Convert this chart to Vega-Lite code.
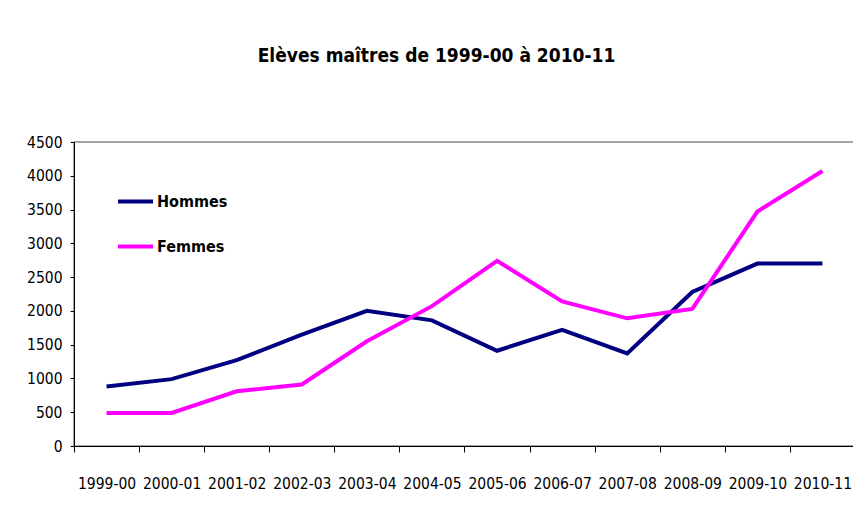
{
  "$schema": "https://vega.github.io/schema/vega-lite/v6.json",
  "width": 781,
  "height": 304,
  "autosize": {"type": "none"},
  "padding": {"left": 74, "top": 142, "right": 0, "bottom": 81},
  "background": "white",
  "title": {
    "text": "Elèves maîtres de 1999-00 à 2010-11",
    "font": "DejaVu Sans Condensed, Liberation Sans, sans-serif",
    "fontSize": 19,
    "fontWeight": "bold",
    "color": "black",
    "anchor": "middle",
    "dx": -28,
    "baseline": "alphabetic",
    "offset": 54
  },
  "data": {
    "values": [
      {"annee": "1999-00", "sexe": "Hommes", "n": 880},
      {"annee": "2000-01", "sexe": "Hommes", "n": 990},
      {"annee": "2001-02", "sexe": "Hommes", "n": 1270},
      {"annee": "2002-03", "sexe": "Hommes", "n": 1650},
      {"annee": "2003-04", "sexe": "Hommes", "n": 2000},
      {"annee": "2004-05", "sexe": "Hommes", "n": 1860},
      {"annee": "2005-06", "sexe": "Hommes", "n": 1410},
      {"annee": "2006-07", "sexe": "Hommes", "n": 1720},
      {"annee": "2007-08", "sexe": "Hommes", "n": 1370},
      {"annee": "2008-09", "sexe": "Hommes", "n": 2280},
      {"annee": "2009-10", "sexe": "Hommes", "n": 2700},
      {"annee": "2010-11", "sexe": "Hommes", "n": 2700},
      {"annee": "1999-00", "sexe": "Femmes", "n": 490},
      {"annee": "2000-01", "sexe": "Femmes", "n": 490},
      {"annee": "2001-02", "sexe": "Femmes", "n": 810},
      {"annee": "2002-03", "sexe": "Femmes", "n": 910},
      {"annee": "2003-04", "sexe": "Femmes", "n": 1550},
      {"annee": "2004-05", "sexe": "Femmes", "n": 2070},
      {"annee": "2005-06", "sexe": "Femmes", "n": 2740},
      {"annee": "2006-07", "sexe": "Femmes", "n": 2140},
      {"annee": "2007-08", "sexe": "Femmes", "n": 1890},
      {"annee": "2008-09", "sexe": "Femmes", "n": 2030},
      {"annee": "2009-10", "sexe": "Femmes", "n": 3470},
      {"annee": "2010-11", "sexe": "Femmes", "n": 4070}
    ]
  },
  "mark": {"type": "line", "strokeWidth": 4},
  "encoding": {
    "x": {
      "field": "annee",
      "type": "ordinal",
      "sort": null,
      "bandPosition": 0.5,
      "scale": {"type": "band", "paddingInner": 0, "paddingOuter": 0},
      "axis": {
        "title": null,
        "tickBand": "extent",
        "labelAngle": 0,
        "domainColor": "black",
        "tickColor": "black",
        "tickSize": 6,
        "labelPadding": 24,
        "labelFont": "DejaVu Sans Condensed, Liberation Sans, sans-serif",
        "labelFontSize": 15.5,
        "labelColor": "black"
      }
    },
    "y": {
      "field": "n",
      "type": "quantitative",
      "scale": {"domain": [0, 4500], "nice": false},
      "axis": {
        "title": null,
        "format": "d",
        "values": [0, 500, 1000, 1500, 2000, 2500, 3000, 3500, 4000, 4500],
        "grid": false,
        "domainColor": "black",
        "tickColor": "black",
        "tickSize": 4,
        "labelPadding": 8,
        "labelFont": "DejaVu Sans Condensed, Liberation Sans, sans-serif",
        "labelFontSize": 15.5,
        "labelColor": "black"
      }
    },
    "color": {
      "field": "sexe",
      "type": "nominal",
      "scale": {"domain": ["Hommes", "Femmes"], "range": ["#000080", "#FF00FF"]},
      "legend": {
        "orient": "none",
        "legendX": 42,
        "legendY": 40,
        "title": null,
        "symbolType": "stroke",
        "symbolSize": 1225,
        "symbolStrokeWidth": 4,
        "labelFont": "DejaVu Sans Condensed, Liberation Sans, sans-serif",
        "labelFontSize": 16,
        "labelFontWeight": "bold",
        "labelColor": "black",
        "labelOffset": 2,
        "rowPadding": 17
      }
    }
  },
  "config": {
    "view": {"stroke": "#888888", "strokeWidth": 1.5}
  }
}
